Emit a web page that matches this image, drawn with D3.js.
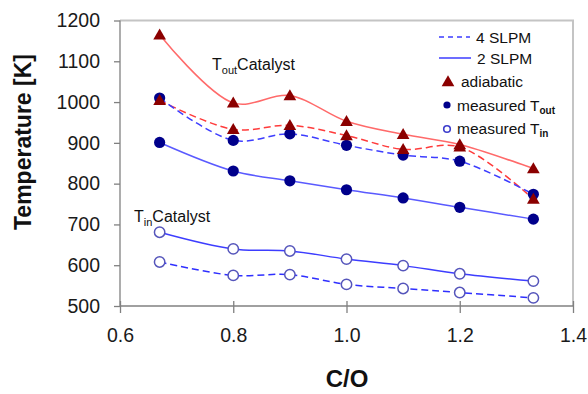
<!DOCTYPE html>
<html>
<head>
<meta charset="utf-8">
<script src="https://cdn.jsdelivr.net/npm/d3@7"></script>
<style>
  html, body { margin: 0; padding: 0; background: #fff; }
  svg { display: block; font-family: "Liberation Sans", Arial, sans-serif; }
</style>
</head>
<body>
<svg id="chart" width="588" height="394"></svg>
<script>
// C/O ratios of the runs
const coRatio = [0.67, 0.8, 0.9, 1.0, 1.1, 1.2, 1.33];

// Adiabatic outlet temperatures [K]
const adiabatic2 = [1165, 998, 1016, 953, 921, 896, 837];
const adiabatic4 = [1004, 933, 943, 918, 884, 890, 762];

// Measured catalyst outlet temperatures [K]
const toutMeasured4 = [1010, 906, 922, 894, 870, 855, 774];
const toutMeasured2 = [901, 831, 807, 785, 765, 742, 713];

// Measured catalyst inlet temperatures [K]
const tinMeasured2 = [681, 640, 635, 615, 599, 579, 561];
const tinMeasured4 = [608, 575, 577, 553, 543, 533, 520];

const xTicks = [0.6, 0.8, 1.0, 1.2, 1.4];
const yTicks = [500, 600, 700, 800, 900, 1000, 1100, 1200];

const svg = d3.select("#chart");
const plotL = 120, plotR = 573, plotT = 20.5, plotB = 306;

const x = d3.scaleLinear().domain([0.6, 1.4]).range([plotL, plotR]);
const y = d3.scaleLinear().domain([500, 1200]).range([plotB, plotT]);

// plot frame (top and right)
svg.append("path")
  .attr("d", `M${plotL},${plotT}H${plotR}V${plotB}`)
  .attr("fill", "none").attr("stroke", "#c4c4c4").attr("stroke-width", 2);

// axes
const xAxis = svg.append("g").attr("transform", `translate(0,${plotB})`)
  .call(d3.axisBottom(x).tickValues(xTicks).tickFormat(d3.format(".1f")).tickSize(7).tickPadding(15));
const yAxis = svg.append("g").attr("transform", `translate(${plotL},0)`)
  .call(d3.axisLeft(y).tickValues(yTicks).tickFormat(d3.format("d")).tickSize(6).tickPadding(14));

[xAxis, yAxis].forEach(g => {
  g.select(".domain").attr("stroke", "#808080").attr("stroke-width", 1.3);
  g.selectAll(".tick line").attr("stroke", "#808080").attr("stroke-width", 1.3);
  g.selectAll(".tick text").attr("fill", "#1a1a1a").style("font-size", "19.5px")
    .style("font-family", "'Liberation Sans', Arial, sans-serif");
});
// x ticks cross the axis line
xAxis.selectAll(".tick line").attr("y1", -5).attr("y2", 7);
xAxis.select(".domain").attr("d", `M${plotL},0H${plotR}`);
yAxis.select(".domain").attr("d", `M0,${plotT}V${plotB}`);

// axis titles
svg.append("text").attr("x", 347).attr("y", 387).attr("text-anchor", "middle")
  .style("font-size", "24px").style("font-weight", "bold").attr("fill", "#111").text("C/O");
svg.append("text").attr("transform", "translate(31,142) rotate(-90)").attr("text-anchor", "middle")
  .style("font-size", "23px").style("font-weight", "bold").attr("fill", "#111").text("Temperature [K]");

const curve = d3.line().x((d, i) => x(coRatio[i])).y(d => y(d)).curve(d3.curveCatmullRom.alpha(0.5));

const series = [
  { values: adiabatic4, color: "#ff3b3b", dash: "7,4", marker: "tri" },
  { values: toutMeasured4, color: "#3d3dff", dash: "7,4", marker: "dot" },
  { values: adiabatic2, color: "#ff6a6a", dash: null, marker: "tri" },
  { values: toutMeasured2, color: "#5a5aff", dash: null, marker: "dot" },
  { values: tinMeasured2, color: "#3d3dff", dash: null, marker: "open" },
  { values: tinMeasured4, color: "#2f2fff", dash: "7,4", marker: "open" }
];

// connecting curves
series.forEach(s => {
  svg.append("path").attr("d", curve(s.values))
    .attr("fill", "none").attr("stroke", s.color).attr("stroke-width", 1.5)
    .attr("stroke-dasharray", s.dash);
});

const triPath = d3.symbol().type(d3.symbolTriangle).size(70);

function drawMarker(g, kind, cx, cy) {
  if (kind === "tri") {
    g.append("path").attr("d", triPath()).attr("transform", `translate(${cx},${cy + 1})`)
      .attr("fill", "#8b0000");
  } else if (kind === "dot") {
    g.append("circle").attr("cx", cx).attr("cy", cy).attr("r", 5.6).attr("fill", "#00008b");
  } else {
    g.append("circle").attr("cx", cx).attr("cy", cy).attr("r", 5.2)
      .attr("fill", "#fff").attr("stroke", "#5555bb").attr("stroke-width", 1.5);
  }
}

// markers: circles first, triangles on top
const markerOrder = ["open", "dot", "tri"];
const mg = svg.append("g");
markerOrder.forEach(kind => {
  series.filter(s => s.marker === kind).forEach(s => {
    s.values.forEach((v, i) => drawMarker(mg, kind, x(coRatio[i]), y(v)));
  });
});

// in-plot annotations
function annot(tx, ty, sub) {
  const t = svg.append("text").attr("x", tx).attr("y", ty).attr("fill", "#111").style("font-size", "16px");
  t.append("tspan").text("T");
  t.append("tspan").attr("dy", 4).style("font-size", "11px").text(sub);
  t.append("tspan").attr("dy", -4).text("Catalyst");
}
annot(212, 70, "out");
annot(134, 222, "in");

// legend
const lg = svg.append("g").style("font-size", "15.5px").attr("fill", "#111");
const rowY = [37, 58, 81.5, 105, 128];
lg.append("line").attr("x1", 439).attr("x2", 470).attr("y1", rowY[0]).attr("y2", rowY[0])
  .attr("stroke", "#3d3dff").attr("stroke-width", 1.5).attr("stroke-dasharray", "5,4");
lg.append("text").attr("x", 476).attr("y", rowY[0] + 5.5).text("4 SLPM");
lg.append("line").attr("x1", 439).attr("x2", 471).attr("y1", rowY[1]).attr("y2", rowY[1])
  .attr("stroke", "#3d3dff").attr("stroke-width", 1.5);
lg.append("text").attr("x", 477).attr("y", rowY[1] + 5.5).text("2 SLPM");
drawMarker(lg, "tri", 448, rowY[2]);
lg.append("text").attr("x", 461).attr("y", rowY[2] + 5.5).text("adiabatic");
lg.append("circle").attr("cx", 447).attr("cy", rowY[3]).attr("r", 3.6).attr("fill", "#00008b");
const t4 = lg.append("text").attr("x", 457).attr("y", rowY[3] + 5.5);
t4.append("tspan").text("measured T");
t4.append("tspan").attr("dy", 3).style("font-size", "10px").style("font-weight", "bold").text("out");
lg.append("circle").attr("cx", 447).attr("cy", rowY[4] + 1).attr("r", 3.3)
  .attr("fill", "none").attr("stroke", "#3d3dcc").attr("stroke-width", 1.6);
const t5 = lg.append("text").attr("x", 457).attr("y", rowY[4] + 5.5);
t5.append("tspan").text("measured T");
t5.append("tspan").attr("dy", 3).style("font-size", "10px").style("font-weight", "bold").text("in");
</script>
</body>
</html>
